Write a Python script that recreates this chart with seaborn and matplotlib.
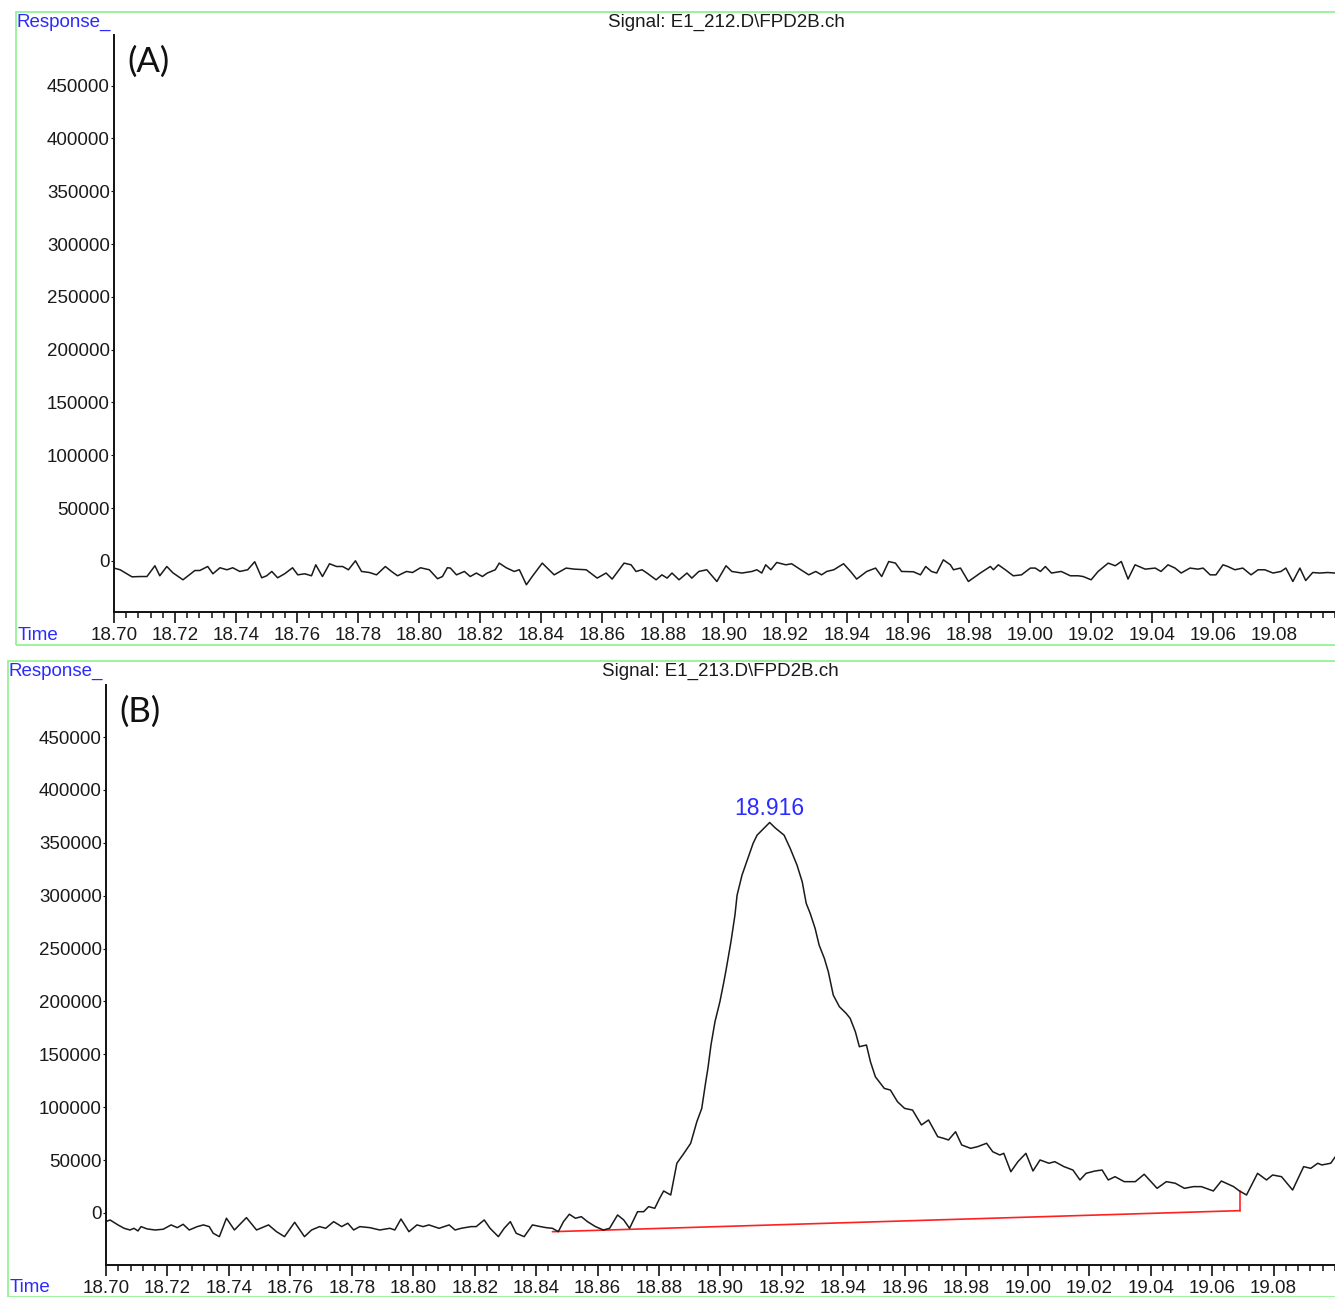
import matplotlib
matplotlib.use("Agg")
import matplotlib.pyplot as plt
from matplotlib.patches import Rectangle
from matplotlib.ticker import MultipleLocator, FixedLocator
import seaborn as sns
import pandas as pd

# ---- Run E1_212 (blank): retention time (min) and detector response ----
time_a = [
    18.7000, 18.7020, 18.7059, 18.7085, 18.7108, 18.7134, 18.7150, 18.7173, 18.7193, 18.7226,
    18.7265, 18.7281, 18.7307, 18.7324, 18.7347, 18.7370, 18.7389, 18.7412, 18.7438, 18.7461,
    18.7484, 18.7500, 18.7517, 18.7536, 18.7559, 18.7585, 18.7602, 18.7625, 18.7647, 18.7661,
    18.7683, 18.7706, 18.7729, 18.7749, 18.7768, 18.7791, 18.7811, 18.7837, 18.7860, 18.7889,
    18.7909, 18.7929, 18.7958, 18.7978, 18.8004, 18.8033, 18.8060, 18.8076, 18.8092, 18.8102,
    18.8122, 18.8148, 18.8167, 18.8187, 18.8207, 18.8223, 18.8249, 18.8262, 18.8285, 18.8311,
    18.8328, 18.8351, 18.8370, 18.8403, 18.8442, 18.8481, 18.8508, 18.8547, 18.8583, 18.8612,
    18.8632, 18.8671, 18.8694, 18.8710, 18.8730, 18.8746, 18.8776, 18.8795, 18.8812, 18.8828,
    18.8851, 18.8877, 18.8893, 18.8916, 18.8942, 18.8975, 18.9005, 18.9024, 18.9057, 18.9090,
    18.9106, 18.9122, 18.9135, 18.9152, 18.9171, 18.9201, 18.9220, 18.9250, 18.9276, 18.9299,
    18.9318, 18.9335, 18.9358, 18.9390, 18.9413, 18.9433, 18.9466, 18.9495, 18.9515, 18.9538,
    18.9560, 18.9580, 18.9619, 18.9642, 18.9659, 18.9678, 18.9695, 18.9717, 18.9740, 18.9750,
    18.9773, 18.9799, 18.9838, 18.9871, 18.9881, 18.9897, 18.9920, 18.9946, 18.9973, 19.0002,
    19.0018, 19.0035, 19.0051, 19.0071, 19.0103, 19.0133, 19.0159, 19.0175, 19.0201, 19.0224,
    19.0257, 19.0280, 19.0300, 19.0322, 19.0345, 19.0378, 19.0411, 19.0430, 19.0453, 19.0476,
    19.0496, 19.0525, 19.0551, 19.0568, 19.0591, 19.0610, 19.0633, 19.0649, 19.0672, 19.0698,
    19.0725, 19.0748, 19.0770, 19.0797, 19.0823, 19.0839, 19.0862, 19.0885, 19.0904, 19.0927,
    19.0950, 19.0976, 19.1000,
]
resp_a = [
    -6900, -8500, -15200, -14900, -14900, -4700, -14200, -5400, -11400, -18000,
    -9200, -9200, -5400, -12300, -6600, -8500, -6600, -10100, -8500, -900,
    -16100, -14200, -10100, -16100, -12300, -6600, -13300, -12300, -14200, -3800,
    -14900, -2800, -5400, -5400, -8500, 0, -10100, -11100, -13300, -5400,
    -10100, -14200, -10100, -11100, -6600, -8500, -17000, -14900, -6600, -6900,
    -13300, -10100, -14900, -11600, -14900, -11600, -8500, -2200, -6600, -10100,
    -8500, -22700, -14900, -2200, -13300, -6900, -7900, -8500, -16400, -11600,
    -17300, -2200, -3800, -10100, -8500, -11600, -18000, -13300, -16400, -11600,
    -18000, -11600, -16400, -10100, -8500, -19600, -4700, -10100, -11600, -10100,
    -8500, -11600, -3800, -8500, -1600, -3800, -2800, -8500, -13300, -10100,
    -13300, -10100, -8500, -2800, -10100, -17300, -10100, -6900, -14900, -700,
    -2200, -10100, -10400, -13300, -5400, -10100, -11600, 900, -3800, -8500,
    -6900, -19600, -11600, -5400, -8500, -3800, -8500, -14200, -13300, -6900,
    -6900, -10100, -5400, -11600, -10100, -14200, -14200, -14900, -18000, -10100,
    -2200, -4700, -700, -17300, -3800, -7900, -6900, -10100, -3800, -6900,
    -11600, -6900, -7900, -6900, -13300, -13300, -3800, -5400, -8500, -6900,
    -13300, -8500, -8500, -11600, -10100, -6900, -19600, -6900, -18700, -11100,
    -11600, -11100, -11600,
]

# ---- Run E1_213 (sample): retention time (min) and detector response ----
time_b = [
    18.7000, 18.7013, 18.7039, 18.7059, 18.7078, 18.7091, 18.7104, 18.7114, 18.7134, 18.7160,
    18.7186, 18.7212, 18.7232, 18.7251, 18.7271, 18.7297, 18.7317, 18.7336, 18.7349, 18.7369,
    18.7392, 18.7418, 18.7457, 18.7490, 18.7529, 18.7555, 18.7581, 18.7614, 18.7646, 18.7669,
    18.7695, 18.7715, 18.7741, 18.7767, 18.7787, 18.7806, 18.7826, 18.7859, 18.7891, 18.7924,
    18.7940, 18.7960, 18.7986, 18.8012, 18.8032, 18.8051, 18.8084, 18.8117, 18.8136, 18.8156,
    18.8188, 18.8205, 18.8231, 18.8250, 18.8277, 18.8296, 18.8316, 18.8335, 18.8361, 18.8388,
    18.8414, 18.8433, 18.8453, 18.8472, 18.8489, 18.8508, 18.8528, 18.8547, 18.8567, 18.8593,
    18.8619, 18.8639, 18.8665, 18.8685, 18.8704, 18.8730, 18.8750, 18.8766, 18.8786, 18.8802,
    18.8815, 18.8838, 18.8858, 18.8881, 18.8903, 18.8923, 18.8939, 18.8952, 18.8959, 18.8969,
    18.8982, 18.8998, 18.9011, 18.9018, 18.9034, 18.9047, 18.9054, 18.9070, 18.9089, 18.9106,
    18.9119, 18.9135, 18.9160, 18.9178, 18.9207, 18.9227, 18.9249, 18.9266, 18.9279, 18.9292,
    18.9308, 18.9321, 18.9338, 18.9351, 18.9367, 18.9387, 18.9409, 18.9422, 18.9439, 18.9452,
    18.9475, 18.9488, 18.9504, 18.9533, 18.9553, 18.9576, 18.9599, 18.9625, 18.9654, 18.9677,
    18.9707, 18.9726, 18.9742, 18.9765, 18.9785, 18.9814, 18.9837, 18.9866, 18.9886, 18.9909,
    18.9922, 18.9945, 18.9968, 18.9994, 19.0017, 19.0040, 19.0069, 19.0088, 19.0118, 19.0147,
    19.0170, 19.0190, 19.0219, 19.0242, 19.0262, 19.0284, 19.0314, 19.0350, 19.0379, 19.0421,
    19.0451, 19.0480, 19.0510, 19.0539, 19.0565, 19.0604, 19.0630, 19.0670, 19.0689, 19.0712,
    19.0748, 19.0777, 19.0797, 19.0826, 19.0862, 19.0898, 19.0921, 19.0944, 19.0957, 19.0986,
    19.1009,
]
resp_b = [
    -8200, -6600, -11300, -14500, -16100, -14500, -17000, -12900, -15100, -16100,
    -15400, -11300, -13900, -10700, -16100, -12900, -11300, -12900, -19200, -22400,
    -5000, -16100, -4400, -16100, -11300, -17700, -22400, -8800, -22400, -16100,
    -12900, -14500, -8200, -12900, -9700, -16100, -12900, -13900, -16100, -14500,
    -16100, -5700, -17700, -11300, -12900, -11300, -14500, -11300, -16100, -14500,
    -12900, -12900, -6600, -14500, -22400, -14500, -8200, -19200, -22400, -11300,
    -12900, -13900, -14500, -17700, -8200, -1200, -5000, -3500, -8200, -12900,
    -16100, -14500, -1900, -6600, -14500, 1200, 1200, 6000, 4400, 13900,
    20800, 17000, 47000, 56400, 65900, 86300, 98900, 124100, 136700, 158800,
    180800, 199700, 218600, 229600, 256400, 281600, 300500, 319400, 335200, 349400,
    357200, 361900, 369200, 364100, 357200, 344600, 328900, 313100, 292700, 283200,
    269000, 253300, 240700, 228000, 206000, 195000, 188700, 184000, 171300, 157200,
    158800, 143000, 128800, 117800, 116200, 105200, 98900, 97300, 83200, 87900,
    72100, 70600, 69000, 76800, 64300, 61100, 62700, 65900, 57900, 54800,
    56400, 39000, 48500, 56400, 39700, 50100, 47000, 48500, 43800, 40600,
    31200, 37500, 39700, 40600, 31200, 34300, 29600, 29600, 36600, 23300,
    29600, 28100, 23300, 24900, 24900, 20800, 30200, 24900, 20800, 17000,
    37500, 31200, 35900, 34300, 21700, 43800, 42200, 47000, 45400, 47000,
    56400,
]

# Integrated peak: apex retention time and baseline end points
peak_time = 18.916
peak_resp = 369200
base_start = (18.8453, -17700)
base_end = (19.0691, 2200)
base_end_signal = 20800

y_ticks = [0, 50000, 100000, 150000, 200000, 250000, 300000, 350000, 400000, 450000]
x_major = [18.70 + 0.02 * i for i in range(20)]

sns.set_theme(style="white")
plt.rcParams["font.family"] = ["Liberation Sans", "DejaVu Sans"]

W, H = 1335, 1297
fig = plt.figure(figsize=(W / 100, H / 100), dpi=100)

BLUE = "#2b2bff"
GREEN = "#8cf08c"
INK = "#1a1a1a"

panels = [
    dict(t=time_a, r=resp_a, left=114, top=35, bottom=612, frame=(16, 12, 645),
         signal="Signal: E1_212.D\\FPD2B.ch", sig_x=726, tag="(A)",
         ylim=(-48500, 498000)),
    dict(t=time_b, r=resp_b, left=106, top=685, bottom=1265, frame=(8, 661, 1297),
         signal="Signal: E1_213.D\\FPD2B.ch", sig_x=720, tag="(B)",
         ylim=(-49200, 499200)),
]

axes = []
for p in panels:
    fx0, fy0, fy1 = p["frame"]
    fig.add_artist(Rectangle((fx0 / W, 1 - fy1 / H), (W + 5 - fx0) / W, (fy1 - fy0) / H,
                             transform=fig.transFigure, fill=False, edgecolor=GREEN,
                             linewidth=1.2, zorder=0))
    ax = fig.add_axes([p["left"] / W, 1 - p["bottom"] / H,
                       (W - p["left"]) / W, (p["bottom"] - p["top"]) / H])
    ax.patch.set_alpha(0)
    df = pd.DataFrame({"Time": p["t"], "Response": p["r"]})
    sns.lineplot(data=df, x="Time", y="Response", ax=ax, color=INK,
                 linewidth=1.1, estimator=None, sort=False,
                 solid_joinstyle="round", solid_capstyle="round")
    ax.set_xlim(18.70, 19.10)
    ax.set_ylim(*p["ylim"])
    ax.set_xlabel("")
    ax.set_ylabel("")
    for s in ("top", "right"):
        ax.spines[s].set_visible(False)
    for s in ("left", "bottom"):
        ax.spines[s].set_color("#111111")
        ax.spines[s].set_linewidth(1.4)
    ax.xaxis.set_major_locator(FixedLocator(x_major))
    ax.xaxis.set_minor_locator(MultipleLocator(0.004))
    ax.set_xticklabels([f"{v:.2f}" for v in x_major])
    ax.yaxis.set_major_locator(FixedLocator(y_ticks))
    ax.set_yticklabels([str(v) for v in y_ticks])
    ax.tick_params(axis="x", which="major", direction="out", length=8, width=1.2,
                   color="#111111", labelsize=13.5, pad=3, bottom=True,
                   labelcolor=INK)
    ax.tick_params(axis="x", which="minor", direction="out", length=4.5, width=1.1,
                   color="#111111", bottom=True)
    ax.tick_params(axis="y", which="major", direction="out", length=2.5, width=0.8,
                   color="#111111", labelsize=13.5, pad=0.5, left=True,
                   labelcolor=INK)
    ax.grid(False)

    fig.text(fx0 / W + 0.0005, 1 - (fy0 + 10) / H, "Response_",
             color=BLUE, fontsize=13.5, ha="left", va="center")
    fig.text(fx0 / W + 0.001, 1 - (p["bottom"] + 23) / H, "Time",
             color=BLUE, fontsize=13.5, ha="left", va="center")
    fig.text(p["sig_x"] / W, 1 - (fy0 + 10) / H,
             p["signal"], color=INK, fontsize=13.5, ha="center", va="center")
    fig.text((p["left"] + 13) / W, 1 - (p["top"] + 27) / H, p["tag"],
             fontsize=25, family=["Lato", "DejaVu Sans"], ha="left", va="center",
             color="#111111")
    axes.append(ax)

ax_b = axes[1]
ax_b.plot([base_start[0], base_end[0]], [base_start[1], base_end[1]],
          color="#ff2020", linewidth=1.2, zorder=1)
ax_b.plot([base_end[0], base_end[0]], [base_end[1], base_end_signal],
          color="#ff2020", linewidth=1.2, zorder=1)
ax_b.annotate(f"{peak_time:.3f}", xy=(peak_time, peak_resp), xytext=(0, 1.5),
              textcoords="offset points", ha="center", va="bottom",
              color=BLUE, fontsize=16.5)

fig.savefig("out.png", dpi=100)
